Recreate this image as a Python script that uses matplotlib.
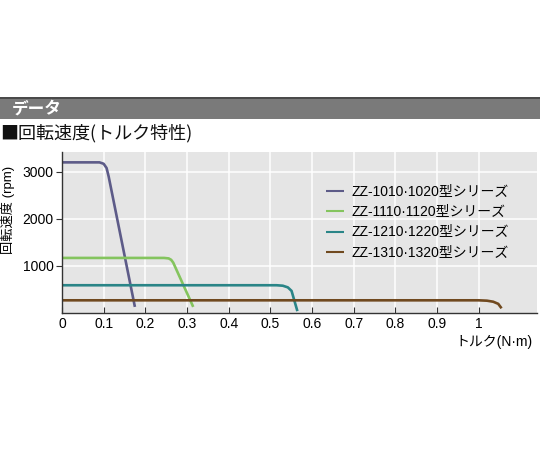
import matplotlib
matplotlib.use('Agg')
import matplotlib.pyplot as plt
from matplotlib.patches import Rectangle

plt.rcParams['font.family'] = ['Liberation Sans', 'Noto Sans CJK JP', 'DejaVu Sans']

# data (torque N·m, speed rpm)
x1010 = [0, 0.09, 0.10, 0.107, 0.112, 0.175]
y1010 = [3200, 3200, 3170, 3080, 2900, 130]
x1110 = [0, 0.245, 0.256, 0.262, 0.267, 0.315]
y1110 = [1170, 1170, 1160, 1130, 1070, 130]
x1210 = [0, 0.515, 0.53, 0.542, 0.551, 0.565]
y1210 = [590, 590, 580, 545, 470, 40]
x1310 = [0, 1.0, 1.02, 1.035, 1.047, 1.055]
y1310 = [270, 270, 262, 240, 195, 100]

names = ['ZZ-1010·1020型シリーズ', 'ZZ-1110·1120型シリーズ',
         'ZZ-1210·1220型シリーズ', 'ZZ-1310·1320型シリーズ']
colors = ['#5d5b88', '#84c45e', '#2a8587', '#70491f']

xticks = [0, 0.1, 0.2, 0.3, 0.4, 0.5, 0.6, 0.7, 0.8, 0.9, 1.0]
xticklabels = ['0', '0.1', '0.2', '0.3', '0.4', '0.5', '0.6', '0.7', '0.8', '0.9', '1']
yticks = [1000, 2000, 3000]

fig = plt.figure(figsize=(5.4, 4.5), dpi=100)
ax = fig.add_axes([0.1148, 0.3044, 0.8796, 0.3578])
ax.set_facecolor('#e5e5e5')

series = [(x1010, y1010), (x1110, y1110), (x1210, y1210), (x1310, y1310)]
for (xs, ys), c, n in zip(series, colors, names):
    ax.plot(xs, ys, color=c, lw=1.9, label=n, solid_capstyle='butt')

ax.set_xlim(0, 1.14)
ax.set_ylim(0, 3420)
ax.set_xticks(xticks)
ax.set_xticklabels(xticklabels)
ax.set_yticks(yticks)
ax.grid(True, color='white', lw=1.1)
ax.set_axisbelow(True)
ax.tick_params(axis='x', direction='in', length=4, pad=3, labelsize=10, color='#333333')
ax.tick_params(axis='y', direction='out', length=4, pad=2, labelsize=10, color='#333333')
for s in ['top', 'right']:
    ax.spines[s].set_visible(False)
for s in ['left', 'bottom']:
    ax.spines[s].set_color('#333333')
    ax.spines[s].set_linewidth(1.0)

leg = ax.legend(loc='upper left', bbox_to_anchor=(0.545, 0.83), frameon=False,
                fontsize=10, handlelength=1.3, handletextpad=0.5,
                labelspacing=0.45, borderaxespad=0)
for h in leg.legend_handles:
    h.set_linewidth(1.5)

# header bar
fig.patches.append(Rectangle((0, 0.7356), 1, 0.0464, transform=fig.transFigure,
                             facecolor='#7a7a7a', edgecolor='none'))
fig.patches.append(Rectangle((0, 0.7800), 1, 0.004, transform=fig.transFigure,
                             facecolor='#4a4a4a', edgecolor='none'))
fig.text(0.022, 0.758, 'データ', color='white', fontsize=12, fontweight='bold',
         va='center', ha='left', family=['Noto Sans CJK JP'])
fig.text(0.0, 0.704, '■回転速度(トルク特性)', color='#111111', fontsize=13,
         va='center', ha='left', family=['Noto Sans CJK JP'])

fig.text(0.015, 0.533, '回転速度 (rpm)', rotation=90, fontsize=9.5,
         va='center', ha='center')
fig.text(0.987, 0.240, 'トルク(N·m)', fontsize=10, va='center', ha='right')

fig.savefig('out.png', dpi=100)
